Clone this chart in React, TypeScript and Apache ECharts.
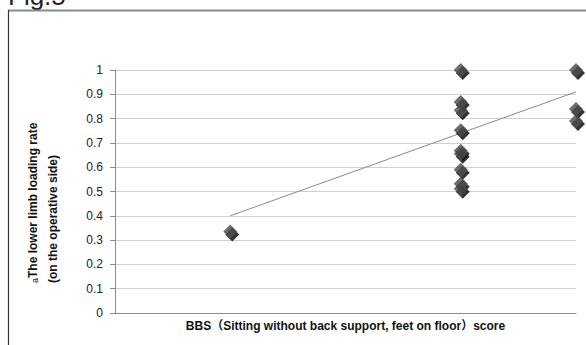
import React, { useEffect, useRef } from "react";
import * as echarts from "echarts";

// BBS sitting score (x) and lower limb loading rate on the operative side (y)
const bbsScores = [1, 3, 3, 3, 3, 3, 3, 3, 3, 3, 4, 4, 4];
const loadingRates = [0.335, 1.0, 0.868, 0.834, 0.752, 0.668, 0.655, 0.589, 0.532, 0.511, 1.0, 0.84, 0.79];

// Linear trend line end points
const trendX = [1, 4];
const trendY = [0.4, 0.91];

const yAxisLines = ["{a|a}{b|The lower limb loading rate}", "{b|(on the operative side)}"];
const xAxisTitle = "BBS（Sitting without back support, feet on floor）score";
const figTitle = "Fig.5";

const FONT = '"Liberation Sans", Arial, "Noto Sans CJK JP", sans-serif';

export default function App() {
  const ref = useRef<HTMLDivElement>(null);

  useEffect(() => {
    if (!ref.current) return;
    const chart = echarts.init(ref.current, null, { renderer: "svg" });

    const points = bbsScores.map((x, i) => [x, loadingRates[i]]);
    const trend = trendX.map((x, i) => [x, trendY[i]]);

    chart.setOption({
      animation: false,
      backgroundColor: "#ffffff",
      textStyle: { fontFamily: FONT },
      grid: { left: 115, right: 10, top: 70, bottom: 32, containLabel: false },
      xAxis: {
        type: "value",
        min: 0,
        max: 4,
        interval: 1,
        axisLine: { show: true, lineStyle: { color: "#8c8c8c", width: 1 } },
        axisTick: { show: false },
        axisLabel: { show: false },
        splitLine: { show: false },
      },
      yAxis: {
        type: "value",
        min: 0,
        max: 1,
        interval: 0.1,
        axisLine: { show: true, lineStyle: { color: "#8c8c8c", width: 1 } },
        axisTick: { show: true, length: 5, inside: false, lineStyle: { color: "#8c8c8c" } },
        axisLabel: {
          color: "#222",
          fontSize: 12,
          fontFamily: FONT,
          margin: 12,
          formatter: (v: number) => String(Math.round(v * 10) / 10),
        },
        splitLine: { show: true, lineStyle: { color: "#d0d0d0", width: 1 } },
      },
      graphic: [
        {
          type: "text",
          x: 8,
          y: -17,
          style: {
            text: figTitle,
            fontSize: 26,
            fontFamily: FONT,
            fill: "#222",
            align: "left",
            verticalAlign: "top",
          },
        },
        {
          type: "line",
          shape: { x1: 8, y1: 10.5, x2: 586, y2: 10.5 },
          style: { stroke: "#8a8a8a", lineWidth: 2 },
        },
        {
          type: "line",
          shape: { x1: 8.5, y1: 10, x2: 8.5, y2: 345 },
          style: { stroke: "#333", lineWidth: 1.2 },
        },
        {
          type: "text",
          x: 33,
          y: 283,
          rotation: Math.PI / 2,
          style: {
            text: yAxisLines[0],
            align: "left",
            verticalAlign: "middle",
            fill: "#111",
            rich: {
              a: { fontSize: 9, fontFamily: FONT, fill: "#111", verticalAlign: "bottom" },
              b: { fontSize: 12, fontWeight: "bold", fontFamily: FONT, fill: "#111" },
            },
          },
        },
        {
          type: "text",
          x: 53,
          y: 283,
          rotation: Math.PI / 2,
          style: {
            text: yAxisLines[1],
            align: "left",
            verticalAlign: "middle",
            fill: "#111",
            rich: {
              b: { fontSize: 12, fontWeight: "bold", fontFamily: FONT, fill: "#111" },
            },
          },
        },
        {
          type: "text",
          x: 345.5,
          y: 326,
          style: {
            text: xAxisTitle,
            fontSize: 12,
            fontWeight: "bold",
            fontFamily: FONT,
            fill: "#111",
            align: "center",
            verticalAlign: "middle",
          },
        },
      ],
      series: [
        {
          type: "line",
          data: trend,
          symbol: "none",
          lineStyle: { color: "#8a8a8a", width: 1 },
          z: 1,
        },
        {
          type: "scatter",
          data: points,
          symbol: "diamond",
          symbolSize: [14, 14],
          itemStyle: {
            color: "#474747",
            shadowColor: "#000000",
            shadowBlur: 0,
            shadowOffsetX: 2,
            shadowOffsetY: 3,
          },
          z: 3,
        },
      ],
    });

    return () => chart.dispose();
  }, []);

  return (
    <div
      ref={ref}
      style={{ position: "fixed", left: 0, top: 0, width: 586, height: 345, background: "#fff" }}
    />
  );
}
